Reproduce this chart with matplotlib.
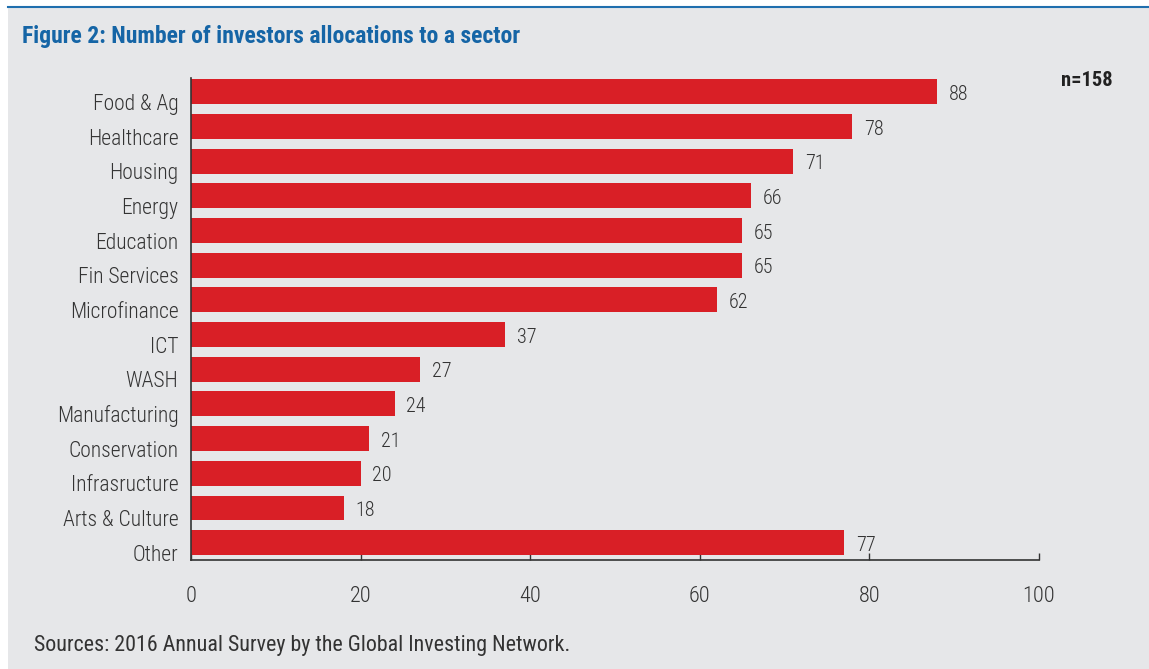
import matplotlib.pyplot as plt
from matplotlib import font_manager
from matplotlib.transforms import ScaledTranslation

# Data
sectors = ['Food & Ag', 'Healthcare', 'Housing', 'Energy', 'Education', 'Fin Services',
           'Microfinance', 'ICT', 'WASH', 'Manufacturing', 'Conservation',
           'Infrasructure', 'Arts & Culture', 'Other']
counts = [88, 78, 71, 66, 65, 65, 62, 37, 27, 24, 21, 20, 18, 77]
x_ticks = [0, 20, 40, 60, 80, 100]

names = {f.name for f in font_manager.fontManager.ttflist}
fam = 'Liberation Sans'
for cand in ['Roboto Condensed', 'Liberation Sans Narrow', 'DejaVu Sans Condensed']:
    if cand in names:
        fam = cand
        break
plt.rcParams['font.family'] = [fam, 'DejaVu Sans']
plt.rcParams['font.stretch'] = 'condensed'

bg = '#e6e7e9'
red = '#d91f26'
txt = '#333333'

fig = plt.figure(figsize=(11.49, 6.69), dpi=100)
fig.patch.set_facecolor('white')

# grey panel and top rule
fig.patches.append(plt.Rectangle((8/1149, 0), 1, 1 - 8/669, transform=fig.transFigure,
                                 facecolor=bg, edgecolor='none', zorder=-10))
fig.lines.append(plt.Line2D([8/1149, 1], [1 - 7/669, 1 - 7/669], transform=fig.transFigure,
                            color='#1f6fae', linewidth=1.5, zorder=-5))

ax = fig.add_axes([191/1149, 1 - 560/669, 848/1149, 482/669])
ax.set_facecolor('none')
ax.set_zorder(5)

y = list(range(len(sectors)))
ax.barh(y, counts, height=0.72, color=red, zorder=2)
down = ScaledTranslation(0, -0.025, fig.dpi_scale_trans)
for yi, v in zip(y, counts):
    ax.text(v + 1.4, yi, str(v), va='center', ha='left', fontsize=14.5, color=txt,
            fontweight='light', transform=ax.transData + down)

ax.set_xlim(0, 100)
ax.set_ylim(len(sectors) - 0.5, -0.4)
ax.set_yticks(y)
ax.set_yticklabels(sectors, fontsize=15.5, color=txt, fontweight='light')
ax.set_xticks(x_ticks)
ax.set_xticklabels([str(t) for t in x_ticks], fontsize=16, color=txt, fontweight='light')
ax.tick_params(axis='y', length=0, pad=9)
ax.tick_params(axis='x', direction='in', length=5, width=1, color=txt, pad=19)

# category labels sit a bit below the bar centre
shift = ScaledTranslation(0, -0.1, fig.dpi_scale_trans)
for lab in ax.get_yticklabels():
    lab.set_transform(lab.get_transform() + shift)

for s in ['top', 'right']:
    ax.spines[s].set_visible(False)
for s in ['left', 'bottom']:
    ax.spines[s].set_color(txt)
    ax.spines[s].set_linewidth(1.2)

fig.text(22/1149, 1 - 37/669, 'Figure 2: Number of investors allocations to a sector',
         fontsize=17, fontweight='bold', color='#1565a6', va='center', ha='left')
fig.text(1113/1149, 1 - 80/669, 'n=158', fontsize=14.8, color='#222222', va='center', ha='right',
         fontweight='bold')
fig.text(34/1149, 1 - 645/669, 'Sources: 2016 Annual Survey by the Global Investing Network.',
         fontsize=15.8, color=txt, va='center', ha='left')

fig.savefig('out.png', dpi=100, facecolor=fig.get_facecolor())
